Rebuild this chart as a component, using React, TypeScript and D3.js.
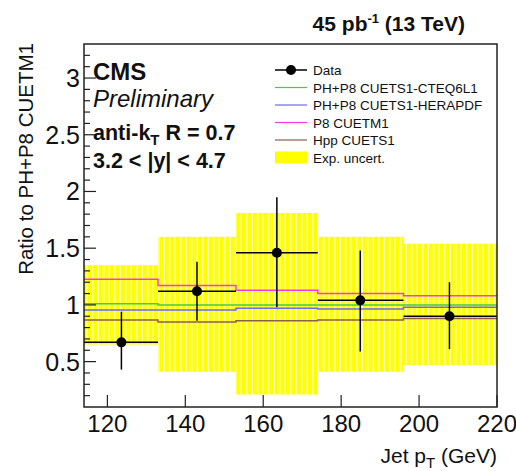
import React, { useRef, useEffect } from 'react'
import * as d3 from 'd3'

// bin edges in jet pT (GeV)
const binEdges = [114, 133, 153, 174, 196, 220]

// data points
const dataX = [123.6, 143, 163.5, 184.9, 207.8]
const dataY = [0.67, 1.12, 1.46, 1.04, 0.9]
const dataErrUp = [0.94, 1.38, 1.95, 1.48, 1.2]
const dataErrDown = [0.43, 0.86, 0.98, 0.59, 0.61]

// experimental uncertainty band (per bin)
const uncUp = [1.35, 1.6, 1.81, 1.6, 1.54]
const uncDown = [0.65, 0.41, 0.21, 0.41, 0.47]

// MC predictions (ratio per bin)
const cteq6l1 = [1.01, 1.0, 1.0, 1.0, 1.0]
const herapdf = [0.955, 0.955, 0.97, 0.965, 0.98]
const p8cuetm1 = [1.226, 1.17, 1.13, 1.1, 1.08]
const hppcuets1 = [0.866, 0.85, 0.86, 0.866, 0.88]

const xTicks = [120, 140, 160, 180, 200, 220]
const yTicks = [0.5, 1, 1.5, 2, 2.5, 3]

const legendItems = [
  { label: 'Data', kind: 'data', color: '#000' },
  { label: 'PH+P8 CUETS1-CTEQ6L1', kind: 'line', color: '#44cc44' },
  { label: 'PH+P8 CUETS1-HERAPDF', kind: 'line', color: '#6b6bee' },
  { label: 'P8 CUETM1', kind: 'line', color: '#ff33ee' },
  { label: 'Hpp CUETS1', kind: 'line', color: '#8e5e4c' },
  { label: 'Exp. uncert.', kind: 'box', color: '#ffff00' },
]

const App = () => {
  const ref = useRef(null)

  useEffect(() => {
    const svg = d3.select(ref.current)
    svg.selectAll('*').remove()

    const margin = { top: 44, left: 84, right: 497, bottom: 407 }
    const font = 'Liberation Sans, Arial, sans-serif'

    const x = d3.scaleLinear().domain([114, 220]).range([margin.left, margin.right])
    const y = d3.scaleLinear().domain([0.1, 3.3]).range([margin.bottom, margin.top])

    // stripe pattern for the yellow band (the original shows light vertical streaks)
    const defs = svg.append('defs')
    const pat = defs.append('pattern')
      .attr('id', 'stripes')
      .attr('patternUnits', 'userSpaceOnUse')
      .attr('width', 5.5).attr('height', 10)
    pat.append('rect').attr('width', 5.5).attr('height', 10).attr('fill', '#ffff00')
    pat.append('rect').attr('x', 4).attr('width', 1.5).attr('height', 10).attr('fill', '#ffffb8')

    const bins = d3.range(binEdges.length - 1)

    // uncertainty band
    svg.append('g')
      .selectAll('rect')
      .data(bins)
      .enter()
      .append('rect')
      .attr('x', i => x(binEdges[i]))
      .attr('width', i => x(binEdges[i + 1]) - x(binEdges[i]))
      .attr('y', i => y(uncUp[i]))
      .attr('height', i => y(uncDown[i]) - y(uncUp[i]))
      .attr('fill', 'url(#stripes)')

    // MC step lines
    const stepLine = (vals, color) => {
      const pts = []
      bins.forEach(i => {
        pts.push([binEdges[i], vals[i]])
        pts.push([binEdges[i + 1], vals[i]])
      })
      svg.append('path')
        .datum(pts)
        .attr('fill', 'none')
        .attr('stroke', color)
        .attr('stroke-width', 1.5)
        .attr('d', d3.line().x(d => x(d[0])).y(d => y(d[1])))
    }
    stepLine(hppcuets1, legendItems[4].color)
    stepLine(cteq6l1, legendItems[1].color)
    stepLine(herapdf, legendItems[2].color)
    stepLine(p8cuetm1, legendItems[3].color)

    // data
    const gd = svg.append('g')
    bins.forEach(i => {
      gd.append('line')
        .attr('x1', x(binEdges[i])).attr('x2', x(binEdges[i + 1]))
        .attr('y1', y(dataY[i])).attr('y2', y(dataY[i]))
        .attr('stroke', '#000').attr('stroke-width', 1.5)
      gd.append('line')
        .attr('x1', x(dataX[i])).attr('x2', x(dataX[i]))
        .attr('y1', y(dataErrUp[i])).attr('y2', y(dataErrDown[i]))
        .attr('stroke', '#000').attr('stroke-width', 1.5)
      gd.append('circle')
        .attr('cx', x(dataX[i])).attr('cy', y(dataY[i]))
        .attr('r', 5).attr('fill', '#000')
    })

    // frame
    svg.append('rect')
      .attr('x', margin.left).attr('y', margin.top)
      .attr('width', margin.right - margin.left)
      .attr('height', margin.bottom - margin.top)
      .attr('fill', 'none').attr('stroke', '#222').attr('stroke-width', 1.5)

    // x axis ticks
    const gx = svg.append('g')
    xTicks.forEach(t => {
      gx.append('line')
        .attr('x1', x(t)).attr('x2', x(t))
        .attr('y1', margin.bottom).attr('y2', margin.bottom - 12)
        .attr('stroke', '#222').attr('stroke-width', 1.2)
      gx.append('text')
        .attr('x', x(t)).attr('y', 432)
        .attr('text-anchor', 'middle')
        .attr('font-family', font).attr('font-size', 24)
        .attr('fill', '#111')
        .text(t)
    })

    // y axis ticks
    const gy = svg.append('g')
    d3.range(2, 33).forEach(k => {
      const v = k / 10
      const major = k % 5 === 0
      gy.append('line')
        .attr('x1', margin.left).attr('x2', margin.left + (major ? 12 : 6))
        .attr('y1', y(v)).attr('y2', y(v))
        .attr('stroke', '#222').attr('stroke-width', 1.2)
    })
    yTicks.forEach(t => {
      gy.append('text')
        .attr('x', 80).attr('y', y(t) + 9)
        .attr('text-anchor', 'end')
        .attr('font-family', font).attr('font-size', 25)
        .attr('fill', '#111')
        .text(t)
    })

    // axis titles
    const xt = svg.append('text')
      .attr('x', 497).attr('y', 463)
      .attr('text-anchor', 'end')
      .attr('font-family', font).attr('font-size', 21)
      .attr('fill', '#111')
    xt.append('tspan').text('Jet p')
    xt.append('tspan').attr('font-size', 15).attr('dy', 5).text('T')
    xt.append('tspan').attr('dy', -5).text(' (GeV)')

    svg.append('text')
      .attr('transform', 'translate(33,43) rotate(-90)')
      .attr('text-anchor', 'end')
      .attr('font-family', font).attr('font-size', 20.5)
      .attr('fill', '#111')
      .text('Ratio to PH+P8 CUETM1')

    // top right lumi
    const lumi = svg.append('text')
      .attr('x', 465).attr('y', 31)
      .attr('text-anchor', 'end')
      .attr('font-family', font).attr('font-size', 21).attr('font-weight', 'bold')
      .attr('fill', '#111')
    lumi.append('tspan').text('45 pb')
    lumi.append('tspan').attr('font-size', 13).attr('dy', -8).text('-1')
    lumi.append('tspan').attr('dy', 8).text(' (13 TeV)')

    // CMS labels
    svg.append('text')
      .attr('x', 93).attr('y', 80)
      .attr('font-family', font).attr('font-size', 24).attr('font-weight', 'bold')
      .attr('fill', '#111')
      .text('CMS')
    svg.append('text')
      .attr('x', 93).attr('y', 107)
      .attr('font-family', font).attr('font-size', 24).attr('font-style', 'italic')
      .attr('fill', '#111')
      .text('Preliminary')
    const ak = svg.append('text')
      .attr('x', 93).attr('y', 140)
      .attr('font-family', font).attr('font-size', 21.5).attr('font-weight', 'bold')
      .attr('fill', '#111')
    ak.append('tspan').text('anti-k')
    ak.append('tspan').attr('font-size', 15).attr('dy', 5).text('T')
    ak.append('tspan').attr('dy', -5).text(' R = 0.7')
    svg.append('text')
      .attr('x', 93).attr('y', 168)
      .attr('font-family', font).attr('font-size', 21.5).attr('font-weight', 'bold')
      .attr('fill', '#111')
      .text('3.2 < |y| < 4.7')

    // legend
    const lg = svg.append('g')
    legendItems.forEach((d, i) => {
      const ly = 70 + i * 17.5
      if (d.kind === 'box') {
        lg.append('rect')
          .attr('x', 275).attr('y', ly - 6).attr('width', 32).attr('height', 12)
          .attr('fill', d.color)
      } else {
        lg.append('line')
          .attr('x1', 275).attr('x2', 307).attr('y1', ly).attr('y2', ly)
          .attr('stroke', d.kind === 'data' ? '#000' : d.color)
          .attr('stroke-width', d.kind === 'data' ? 1.5 : 1.2)
        if (d.kind === 'data') {
          lg.append('circle').attr('cx', 291).attr('cy', ly).attr('r', 5).attr('fill', '#000')
        }
      }
      lg.append('text')
        .attr('x', 313).attr('y', ly + 5)
        .attr('font-family', font).attr('font-size', 13.5)
        .attr('fill', '#111')
        .text(d.label)
    })
  }, [])

  return (
    <svg
      ref={ref}
      width={516}
      height={471}
      style={{ position: 'absolute', left: 0, top: 0, background: '#fff' }}
    />
  )
}

export default App
